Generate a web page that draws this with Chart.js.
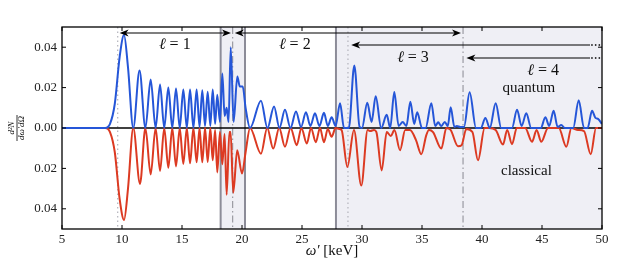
<!DOCTYPE html>
<html>
<head>
<meta charset="utf-8">
<script src="https://cdn.jsdelivr.net/npm/chart.js@4/dist/chart.umd.min.js"></script>
<style>
  html, body { margin: 0; padding: 0; background: #fff; }
  canvas { display: block; }
</style>
</head>
<body>
<canvas id="spec" width="628" height="269"></canvas>
<script>
// spectrum: omega' [keV] and dN/dw'dOmega
const quantumX = [5, 8.6, 9.0, 9.4, 9.8, 10.17, 10.5, 10.94,
  11.46, 11.95, 12.39, 12.8, 13.17, 13.52, 13.86, 14.19, 14.5, 14.81, 15.11, 15.4,
  15.67, 15.95, 16.22, 16.46, 16.69, 16.92, 17.14, 17.36, 17.56, 17.76, 17.94, 18.16,
  18.36, 18.55, 18.72, 18.88, 19.06, 19.3, 19.61, 19.82, 20.06, 20.3, 20.67,
  21.58, 22.12, 22.67, 23.12, 23.58, 24.04, 24.5, 24.92, 25.33, 25.7, 26.08, 26.45,
  26.83, 27.15, 27.47, 27.8, 28.17, 28.5, 28.9, 29.36, 29.8, 30.0, 30.44, 30.8,
  31.14, 31.6, 32.06, 32.35, 32.69, 33.05, 33.39, 33.7, 34.03, 34.35, 34.6, 35.0,
  35.3, 35.78, 36.1, 36.35, 36.6, 36.9, 37.15, 37.39, 37.7, 37.9, 38.2, 38.5,
  38.97, 39.5, 39.9, 40.28, 40.65, 41.14, 41.6, 42.5, 42.92, 43.3, 43.69, 44.1,
  44.9, 45.28, 45.6, 45.97, 46.3, 46.61, 46.9, 47.6, 48.06, 48.5, 48.8, 49.17,
  49.45, 49.67, 50];
const quantumY = [0, 0, 0.002, 0.012, 0.035, 0.046, 0.03, 0,
  0.0285, 0, 0.024, 0, 0.0215, 0, 0.02, 0, 0.0195, 0, 0.019, 0,
  0.019, 0, 0.019, 0.0005, 0.0187, 0.001, 0.018, 0.001, 0.019, 0.002, 0.0165, 0.003,
  0.027, 0.006, 0.01, 0.003, 0.04, 0.003, 0.0255, 0.0205, 0.0205, 0.01, 0,
  0.0135, 0, 0.0107, 0, 0.009, 0, 0.0082, 0.0005, 0.0078, 0.001, 0.0073, 0.001,
  0.0075, 0.001, 0.0053, 0.001, 0.0123, 0, 0, 0.031, 0.0005, 0, 0.0125, 0.003,
  0.0157, 0, 0.0065, 0, 0.0178, 0.001, 0.003, 0.001, 0.013, 0.002, 0.0078, 0,
  0, 0.0122, 0.001, 0.0028, 0.001, 0.003, 0.001, 0.0103, 0.0005, 0.001, 0.0005, 0.0005,
  0.0177, 0, 0, 0.005, 0, 0.0123, 0, 0, 0.009, 0.001, 0.0073, 0,
  0, 0.0053, 0.001, 0.0085, 0.0005, 0.0015, 0, 0, 0.0137, 0, 0, 0.0085,
  0.005, 0.0045, 0.002];

const classicalX = [5, 8.6, 9.0, 9.4, 9.8, 10.17, 10.5, 10.94,
  11.5, 11.95, 12.39, 12.8, 13.17, 13.52, 13.86, 14.19, 14.5, 14.81, 15.11, 15.4,
  15.67, 15.95, 16.22, 16.46, 16.69, 16.92, 17.14, 17.36, 17.56, 17.76, 17.94, 18.16,
  18.36, 18.55, 18.72, 18.95, 19.05, 19.27, 19.6, 20.0, 20.3, 20.67,
  21.58, 22.1, 22.6, 23.1, 23.58, 24.05, 24.56, 24.95, 25.4, 25.75, 26.15, 26.5,
  26.83, 27.15, 27.47, 27.8, 28.1, 28.3, 28.78, 29.33, 29.94, 30.47, 30.7, 31.0,
  31.2, 31.64, 32.06, 32.4, 32.7, 33.17, 33.6, 34.0, 34.5, 34.94, 35.36, 35.58,
  35.92, 36.61, 37.03, 37.39, 38.0, 38.3, 38.69, 39.2, 39.67, 40.22, 40.6, 41.14,
  41.75, 42.1, 42.5, 42.9, 43.6, 44.17, 44.55, 44.94, 45.5, 46.4, 47.03, 47.45,
  48.0, 48.5, 49.06, 49.5, 50];
const classicalY = [0, 0, -0.002, -0.012, -0.035, -0.0455, -0.03, 0,
  -0.0277, 0, -0.023, 0, -0.0213, 0, -0.0197, 0, -0.019, 0, -0.0178, 0,
  -0.0175, 0, -0.017, 0, -0.017, 0, -0.0168, 0, -0.016, -0.001, -0.022, -0.002,
  -0.018, -0.003, -0.033, -0.002, -0.002, -0.032, -0.011, -0.0225, -0.012, 0,
  -0.0127, 0, -0.0102, 0, -0.0093, 0, -0.0085, 0, -0.0077, 0, -0.007, 0,
  -0.007, -0.0005, -0.0043, 0, -0.0005, -0.001, -0.0193, -0.001, -0.0285, -0.001, -0.0015, -0.001,
  -0.002, -0.021, -0.002, -0.004, -0.001, -0.011, -0.001, -0.001, -0.006, -0.013, -0.0035, -0.001,
  -0.002, -0.0102, 0, -0.001, -0.009, -0.0085, -0.0005, -0.002, -0.016, 0, 0, -0.001,
  -0.0082, -0.001, -0.008, 0, 0, -0.0068, -0.001, -0.0068, 0, 0, -0.0093, 0,
  -0.001, -0.0015, -0.013, 0, 0];

const xTicks = [5, 10, 15, 20, 25, 30, 35, 40, 45, 50];
const yTicks = [-0.04, -0.02, 0, 0.02, 0.04];

// threshold markers [keV]
const shadedBands = [[18.22, 20.25], [27.83, 50]];
const bandEdges = [18.22, 20.25, 27.83];
const dashDotAt = [19.22, 38.42];
const dottedAt = [9.64, 28.83];

const SERIF = '"Liberation Serif", "DejaVu Serif", serif';

function toPts(xs, ys){ return xs.map((x, i) => ({ x, y: ys[i] })); }

function arrowHead(ctx, x, y, dir){
  ctx.beginPath();
  ctx.moveTo(x, y);
  ctx.lineTo(x - dir*9, y - 3.5);
  ctx.lineTo(x - dir*6.5, y);
  ctx.lineTo(x - dir*9, y + 3.5);
  ctx.closePath();
  ctx.fill();
}

const decor = {
  id: 'decor',
  beforeDatasetsDraw(chart){
    const { ctx, chartArea: a, scales: { x, y } } = chart;
    ctx.save();
    ctx.fillStyle = '#efeff5';
    shadedBands.forEach(([l, r]) => {
      ctx.fillRect(x.getPixelForValue(l), a.top, x.getPixelForValue(r) - x.getPixelForValue(l), a.bottom - a.top);
    });
    ctx.strokeStyle = '#8c8c98'; ctx.lineWidth = 2;
    bandEdges.forEach(v => {
      const px = x.getPixelForValue(v);
      ctx.beginPath(); ctx.moveTo(px, a.top); ctx.lineTo(px, a.bottom); ctx.stroke();
    });
    ctx.strokeStyle = '#9a9aa2'; ctx.lineWidth = 1.2; ctx.setLineDash([7, 3, 1.5, 3]);
    dashDotAt.forEach(v => {
      const px = x.getPixelForValue(v);
      ctx.beginPath(); ctx.moveTo(px, a.top); ctx.lineTo(px, a.bottom); ctx.stroke();
    });
    ctx.strokeStyle = '#b8b8c0'; ctx.lineWidth = 1.3; ctx.setLineDash([1.5, 3]);
    dottedAt.forEach(v => {
      const px = x.getPixelForValue(v);
      ctx.beginPath(); ctx.moveTo(px, a.top); ctx.lineTo(px, a.bottom); ctx.stroke();
    });
    ctx.setLineDash([]);
    const y0 = y.getPixelForValue(0);
    ctx.strokeStyle = '#000'; ctx.lineWidth = 1.3;
    ctx.beginPath(); ctx.moveTo(a.left, y0); ctx.lineTo(a.right, y0); ctx.stroke();
    ctx.restore();
  },
  afterDraw(chart){
    const { ctx, chartArea: a, scales: { x, y } } = chart;
    ctx.save();
    // frame + inward ticks
    ctx.strokeStyle = '#000'; ctx.lineWidth = 1.3;
    ctx.strokeRect(a.left, a.top, a.right - a.left, a.bottom - a.top);
    ctx.lineWidth = 1;
    xTicks.forEach(v => {
      const px = x.getPixelForValue(v);
      ctx.beginPath();
      ctx.moveTo(px, a.bottom); ctx.lineTo(px, a.bottom - 4);
      ctx.moveTo(px, a.top); ctx.lineTo(px, a.top + 4);
      ctx.stroke();
    });
    yTicks.forEach(v => {
      const py = y.getPixelForValue(v);
      ctx.beginPath();
      ctx.moveTo(a.left, py); ctx.lineTo(a.left + 4, py);
      ctx.moveTo(a.right, py); ctx.lineTo(a.right - 4, py);
      ctx.stroke();
    });

    // arrows for the l ranges
    ctx.fillStyle = '#000'; ctx.strokeStyle = '#000'; ctx.lineWidth = 1.2;
    const X = v => x.getPixelForValue(v);
    const line = (x1, x2, py) => { ctx.beginPath(); ctx.moveTo(x1, py); ctx.lineTo(x2, py); ctx.stroke(); };
    const r1 = 33, r2 = 45, r3 = 58;
    line(X(9.8) + 6, X(19.08) - 6, r1); arrowHead(ctx, X(9.8), r1, -1); arrowHead(ctx, X(19.08), r1, 1);
    line(X(19.4) + 6, X(38.25) - 6, r1); arrowHead(ctx, X(19.4), r1, -1); arrowHead(ctx, X(38.25), r1, 1);
    line(X(29.1) + 6, X(49.0), r2); arrowHead(ctx, X(29.1), r2, -1);
    line(X(38.7) + 6, X(49.0), r3); arrowHead(ctx, X(38.7), r3, -1);
    ctx.setLineDash([1.5, 2.2]); ctx.lineWidth = 1.5;
    line(X(49.1), X(50), r2); line(X(49.1), X(50), r3);
    ctx.setLineDash([]);

    // labels
    ctx.fillStyle = '#111';
    ctx.textAlign = 'center'; ctx.textBaseline = 'middle';
    const ell = (txt, xv, py) => {
      ctx.font = 'italic 16px ' + SERIF;
      const w1 = ctx.measureText('\u2113').width;
      ctx.font = '16px ' + SERIF;
      const w2 = ctx.measureText(' = ' + txt).width;
      const cx = X(xv) - (w1 + w2) / 2;
      ctx.textAlign = 'left';
      ctx.font = 'italic 16px ' + SERIF; ctx.fillText('\u2113', cx, py);
      ctx.font = '16px ' + SERIF; ctx.fillText(' = ' + txt, cx + w1, py);
      ctx.textAlign = 'center';
    };
    ell('1', 14.4, 45);
    ell('2', 24.4, 45);
    ell('3', 34.25, 58);
    ell('4', 45.1, 71);
    ctx.font = '15px ' + SERIF;
    ctx.fillText('quantum', X(43.9), 88);
    ctx.fillText('classical', X(43.7), 171);

    // x label
    ctx.font = 'italic 15px ' + SERIF;
    const wO = ctx.measureText('\u03c9\u2032').width;
    ctx.font = '15px ' + SERIF;
    const wK = ctx.measureText(' [keV]').width;
    const sx = (a.left + a.right) / 2 - (wO + wK) / 2;
    ctx.textAlign = 'left';
    ctx.font = 'italic 15px ' + SERIF; ctx.fillText('\u03c9\u2032', sx, 251);
    ctx.font = '15px ' + SERIF; ctx.fillText(' [keV]', sx + wO, 251);

    // y label as a rotated fraction
    ctx.translate(17, 128); ctx.rotate(-Math.PI / 2);
    ctx.textAlign = 'center';
    ctx.font = 'italic 9px ' + SERIF;
    ctx.fillText('d\u00b2N', 0, -5);
    ctx.fillText('d\u03c9\u2032d\u03a9', 0, 5);
    ctx.lineWidth = 0.8;
    ctx.beginPath(); ctx.moveTo(-13, 0); ctx.lineTo(13, 0); ctx.stroke();
    ctx.restore();
  }
};

new Chart(document.getElementById('spec'), {
  type: 'line',
  data: {
    datasets: [
      { label: 'quantum', data: toPts(quantumX, quantumY), borderColor: '#2556d8', borderWidth: 2,
        pointRadius: 0, cubicInterpolationMode: 'monotone', fill: false },
      { label: 'classical', data: toPts(classicalX, classicalY), borderColor: '#dc3a22', borderWidth: 2,
        pointRadius: 0, cubicInterpolationMode: 'monotone', fill: false }
    ]
  },
  options: {
    responsive: false,
    animation: false,
    devicePixelRatio: 1,
    layout: { padding: { left: 0, right: 26, top: 27, bottom: 0 } },
    plugins: { legend: { display: false }, tooltip: { enabled: false } },
    scales: {
      x: {
        type: 'linear', min: 5, max: 50,
        grid: { display: false, drawTicks: false },
        border: { display: false },
        afterBuildTicks: s => { s.ticks = xTicks.map(v => ({ value: v })); },
        afterFit: s => { s.height = 40; },
        ticks: { padding: 3, color: '#222', font: { family: SERIF, size: 13 }, maxRotation: 0 }
      },
      y: {
        min: -0.05, max: 0.05,
        grid: { display: false, drawTicks: false },
        border: { display: false },
        afterBuildTicks: s => { s.ticks = yTicks.map(v => ({ value: v })); },
        afterFit: s => { s.width = 62; },
        ticks: { padding: 5, color: '#222', font: { family: SERIF, size: 13 },
          callback: v => Math.abs(v).toFixed(2) }
      }
    }
  },
  plugins: [decor]
});
</script>
</body>
</html>
